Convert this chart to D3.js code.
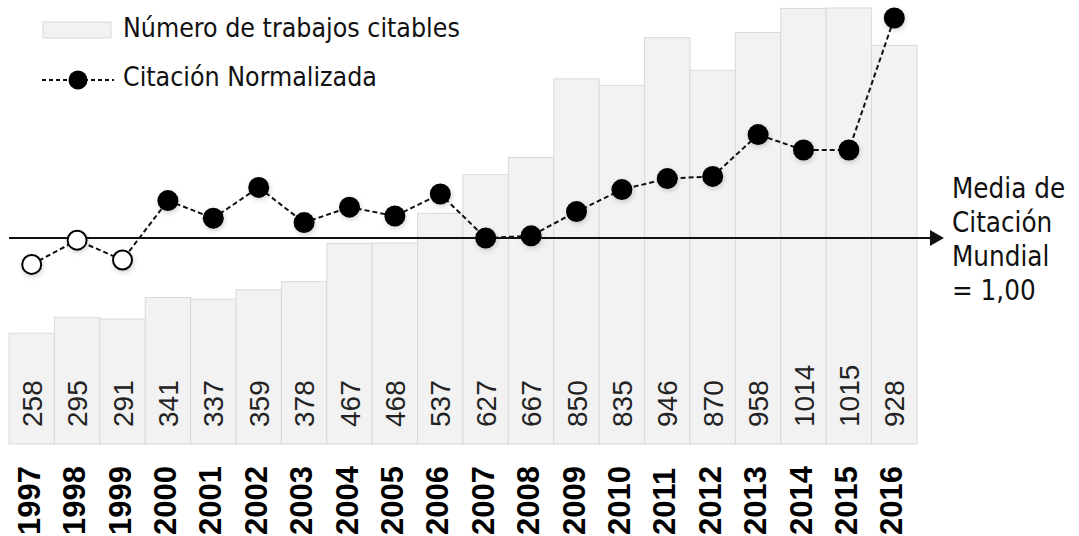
<!DOCTYPE html>
<html>
<head>
<meta charset="utf-8">
<script src="https://cdn.jsdelivr.net/npm/d3@7"></script>
<style>
  body { margin: 0; background: #fff; }
  svg { display: block; }
</style>
</head>
<body>
<svg id="chart" width="1079" height="536"></svg>
<script>
// datos
const years = ["1997","1998","1999","2000","2001","2002","2003","2004","2005","2006",
               "2007","2008","2009","2010","2011","2012","2013","2014","2015","2016"];
const trabajos = [258, 295, 291, 341, 337, 359, 378, 467, 468, 537,
                  627, 667, 850, 835, 946, 870, 958, 1014, 1015, 928];
const citacion = [0.88, 0.99, 0.90, 1.17, 1.09, 1.23, 1.07, 1.14, 1.10, 1.20,
                  1.00, 1.01, 1.12, 1.22, 1.27, 1.28, 1.47, 1.40, 1.40, 2.00];
const mediaMundial = 1.0;
const mediaLabel = ["Media de", "Citación", "Mundial", "= 1,00"];

const fuente = "'DejaVu Sans Condensed', 'DejaVu Sans', Verdana, sans-serif";

const svg = d3.select("#chart");
const baseY = 444;

const x = d3.scaleBand().domain(years).range([9, 917]).padding(0);
const yBar = d3.scaleLinear().domain([0, d3.max(trabajos)]).range([baseY, 8]);
const yCit = d3.scaleLinear().domain([1, 2]).range([238, 18]);

const defs = svg.append("defs");
const f = defs.append("filter").attr("id", "sombra")
    .attr("x", "-50%").attr("y", "-50%").attr("width", "200%").attr("height", "200%");
f.append("feDropShadow").attr("dx", 1).attr("dy", 2).attr("stdDeviation", 2.5)
    .attr("flood-color", "#000").attr("flood-opacity", 0.18);

// barras
svg.append("g").selectAll("rect")
    .data(trabajos)
    .join("rect")
    .attr("x", (d, i) => x(years[i]))
    .attr("y", d => yBar(d))
    .attr("width", x.bandwidth())
    .attr("height", d => baseY - yBar(d))
    .attr("fill", "#f2f2f2")
    .attr("stroke", "#d9d9d9")
    .attr("stroke-width", 1);

// valores de barras
svg.append("g").selectAll("text")
    .data(trabajos)
    .join("text")
    .attr("transform", (d, i) => `translate(${x(years[i]) + x.bandwidth() / 2},427) rotate(-90)`)
    .attr("dy", "0.36em")
    .attr("font-family", "Liberation Sans, Arial, sans-serif")
    .attr("font-size", 28)
    .attr("fill", "#222")
    .text(d => d);

// eje de años
svg.append("g").selectAll("text")
    .data(years)
    .join("text")
    .attr("transform", d => `translate(${x(d) + x.bandwidth() / 2 - 3},535) rotate(-90)`)
    .attr("dy", "0.36em")
    .attr("font-family", "Liberation Sans, Arial, sans-serif")
    .attr("font-weight", "bold")
    .attr("font-size", 31)
    .attr("fill", "#000")
    .text(d => d);

// linea de media mundial con flecha
const yMedia = yCit(mediaMundial);
svg.append("line")
    .attr("x1", 9).attr("x2", 932)
    .attr("y1", yMedia).attr("y2", yMedia)
    .attr("stroke", "#111").attr("stroke-width", 2.2);
svg.append("path")
    .attr("d", `M930,${yMedia - 8} L944,${yMedia} L930,${yMedia + 8} Z`)
    .attr("fill", "#111");

svg.append("text")
    .attr("x", 952).attr("y", 198)
    .attr("font-family", fuente)
    .attr("font-size", 27.5)
    .attr("fill", "#111")
    .selectAll("tspan")
    .data(mediaLabel)
    .join("tspan")
    .attr("x", 952)
    .attr("dy", (d, i) => i === 0 ? 0 : 34)
    .text(d => d);

// linea de citacion normalizada
const line = d3.line()
    .x((d, i) => x(years[i]) + x.bandwidth() / 2)
    .y(d => yCit(d));

svg.append("path")
    .datum(citacion)
    .attr("d", line)
    .attr("fill", "none")
    .attr("stroke", "#111")
    .attr("stroke-width", 2)
    .attr("stroke-dasharray", "5,3");

svg.append("g").attr("filter", "url(#sombra)").selectAll("circle")
    .data(citacion)
    .join("circle")
    .attr("cx", (d, i) => x(years[i]) + x.bandwidth() / 2)
    .attr("cy", d => yCit(d))
    .attr("r", d => d < mediaMundial ? 9.5 : 10.5)
    .attr("fill", d => d < mediaMundial ? "#fff" : "#000")
    .attr("stroke", "#000")
    .attr("stroke-width", d => d < mediaMundial ? 2 : 0);

// leyenda
const leg = svg.append("g")
    .attr("font-family", fuente)
    .attr("font-size", 26.5)
    .attr("fill", "#111");

leg.append("rect")
    .attr("x", 43).attr("y", 22).attr("width", 68).attr("height", 16)
    .attr("fill", "#f2f2f2").attr("stroke", "#d9d9d9");
leg.append("text").attr("x", 123).attr("y", 37).text("Número de trabajos citables");

leg.append("line")
    .attr("x1", 42).attr("x2", 114).attr("y1", 80).attr("y2", 80)
    .attr("stroke", "#111").attr("stroke-width", 2).attr("stroke-dasharray", "4,3");
leg.append("circle").attr("cx", 78).attr("cy", 80).attr("r", 9.5).attr("fill", "#000");
leg.append("text").attr("x", 123).attr("y", 86).text("Citación Normalizada");
</script>
</body>
</html>
